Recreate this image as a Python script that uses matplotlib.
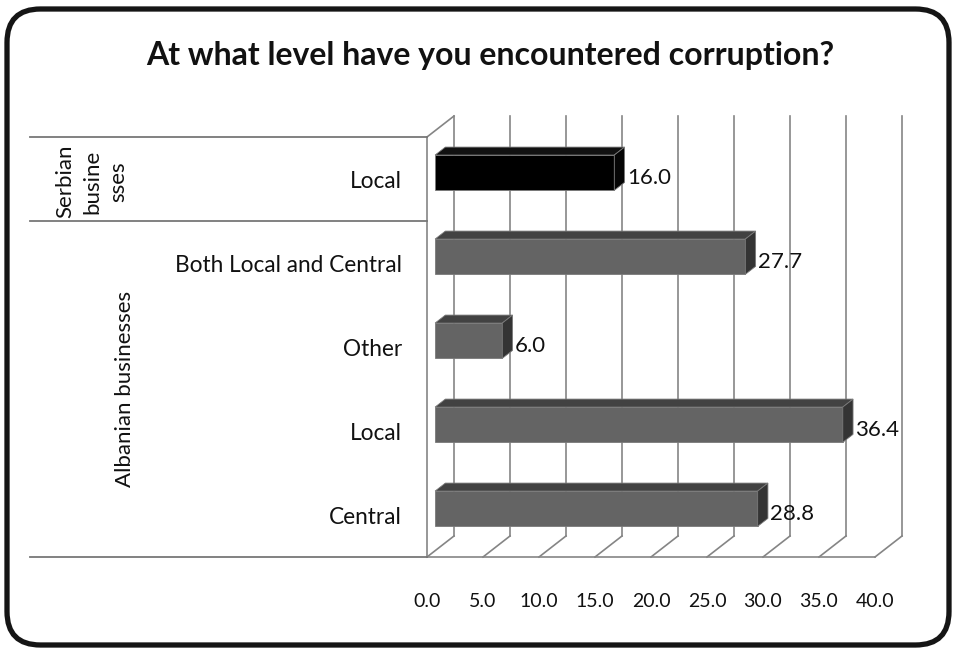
import matplotlib
matplotlib.use("Agg")
import matplotlib.pyplot as plt
from matplotlib.patches import Polygon, FancyBboxPatch
from matplotlib.transforms import blended_transform_factory
import numpy as np

# ---- data (top row first) ----
categories = ["Local", "Both Local and Central", "Other", "Local", "Central"]
groups = ["Serbian\nbusine\nsses", "Albanian businesses"]
group_sizes = [1, 4]
values = [16.0, 27.7, 6.0, 36.4, 28.8]
bar_colors = ["#000000", "#646464", "#646464", "#646464", "#646464"]
top_colors = ["#111111", "#424242", "#424242", "#424242", "#424242"]
side_colors = ["#050505", "#343434", "#343434", "#343434", "#343434"]
xticks = [0, 5, 10, 15, 20, 25, 30, 35, 40]
xtick_labels = ["0.0", "5.0", "10.0", "15.0", "20.0", "25.0", "30.0", "35.0", "40.0"]
title = "At what level have you encountered corruption?"

FONT = "Lato"
W, H = 956, 648
fig = plt.figure(figsize=(W / 100, H / 100), dpi=100)
fig.patch.set_facecolor("white")

# front plane of the pseudo-3D plot area, in pixels
left_px, right_px, top_px, bottom_px = 427, 875, 137, 557
ax = fig.add_axes([left_px / W, 1 - bottom_px / H,
                   (right_px - left_px) / W, (bottom_px - top_px) / H])
xmax = 40
n = len(categories)
ax.set_xlim(0, xmax)
ax.set_ylim(0, n)
for s in ax.spines.values():
    s.set_visible(False)
ax.set_facecolor("none")

px_x = (right_px - left_px) / xmax
px_y = (bottom_px - top_px) / n
Dx = 27 / px_x      # depth offset in x units
Dy = 21 / px_y      # depth offset in row units

grid_c = "#858585"
glw = 1.2
# back wall gridlines
for t in xticks:
    ax.plot([t + Dx, t + Dx], [Dy, n + Dy], color=grid_c, lw=glw, clip_on=False, zorder=1)
# floor diagonals and front floor edge
for t in xticks:
    ax.plot([t, t + Dx], [0, Dy], color=grid_c, lw=glw, clip_on=False, zorder=1)
ax.plot([0, xmax], [0, 0], color=grid_c, lw=glw, clip_on=False, zorder=1)
# left side wall
ax.plot([0, 0], [0, n], color=grid_c, lw=glw, clip_on=False, zorder=1)
ax.plot([0, Dx], [n, n + Dy], color=grid_c, lw=glw, clip_on=False, zorder=1)

# bars
f0, f1 = 0.3, 0.68
h = 0.42
centers = np.arange(n)[::-1] + 0.5
y_front = centers + f0 * Dy
ax.barh(y_front, values, left=f0 * Dx, height=h, color=bar_colors,
        edgecolor="#7a7a7a", linewidth=0.6, zorder=3)
dz = (f1 - f0)
for yc, v, tc, sc in zip(y_front, values, top_colors, side_colors):
    top0 = yc + h / 2
    bot0 = yc - h / 2
    xl = f0 * Dx
    xr = v + f0 * Dx
    top = Polygon([(xl, top0), (xr, top0), (xr + dz * Dx, top0 + dz * Dy),
                   (xl + dz * Dx, top0 + dz * Dy)], closed=True,
                  facecolor=tc, edgecolor="#7a7a7a", lw=0.6, zorder=3, clip_on=False)
    side = Polygon([(xr, bot0), (xr, top0), (xr + dz * Dx, top0 + dz * Dy),
                    (xr + dz * Dx, bot0 + dz * Dy)], closed=True,
                   facecolor=sc, edgecolor="#7a7a7a", lw=0.6, zorder=3, clip_on=False)
    ax.add_patch(top)
    ax.add_patch(side)
    ax.text(xr + dz * Dx + 0.2, yc - 0.06, f"{v:.1f}", ha="left", va="center",
            fontsize=16, family=FONT, color="#111111", zorder=4)

# x tick labels
ax.set_xticks(xticks)
ax.set_xticklabels(xtick_labels, fontsize=14, family=FONT, color="#111111")
ax.tick_params(axis="x", length=0, pad=26)

# category labels
ax.set_yticks(centers)
ax.set_yticklabels(categories, fontsize=16.3, family=FONT, color="#111111")
ax.tick_params(axis="y", length=0, pad=18)

# left-hand group separators and labels
bt = blended_transform_factory(fig.transFigure, ax.transData)
x0f, x1f = 30 / W, left_px / W
bounds = [n]
acc = n
for gs in group_sizes:
    acc -= gs
    bounds.append(acc)
for b in bounds:
    ax.plot([x0f, x1f], [b, b], color="#777777", lw=1.3, transform=bt, clip_on=False)

ax.text(92 / W, n - 0.5 * group_sizes[0] - 0.03, groups[0], transform=bt, rotation=90,
        ha="center", va="center", multialignment="center", fontsize=16, family=FONT,
        color="#111111", linespacing=1.4)
ax.text(125 / W, (n - group_sizes[0]) / 2, groups[1], transform=bt, rotation=90,
        ha="center", va="center", fontsize=16, family=FONT, color="#111111")

# title
fig.text(490 / W, 1 - 55 / H, title, ha="center", va="center", fontsize=23,
         family=FONT, weight="bold", color="#111111")

# rounded outer frame
frame = FancyBboxPatch((7 / W, 1 - 645 / H), 942 / W, 636 / H,
                       boxstyle="round,pad=0,rounding_size=0.035",
                       transform=fig.transFigure, facecolor="none",
                       edgecolor="#151515", lw=3.8, mutation_aspect=W / H)
fig.patches.append(frame)

fig.savefig("out.png", dpi=100, facecolor="white")
